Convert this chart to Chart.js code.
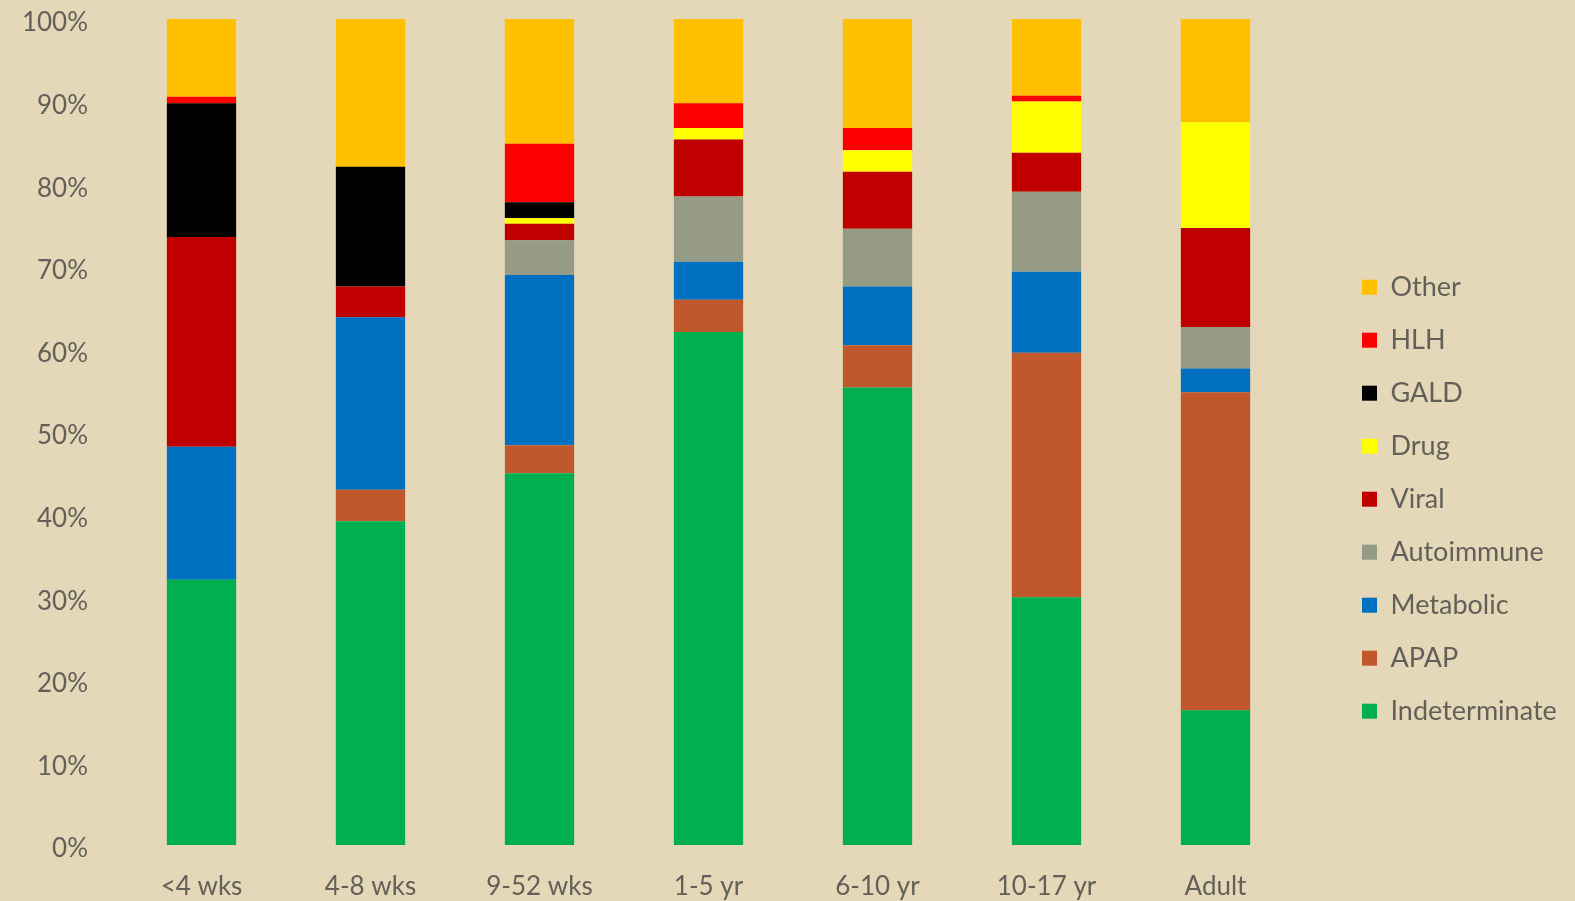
<!DOCTYPE html>
<html>
<head>
<meta charset="utf-8">
<title>Etiology by age group</title>
<script src="https://cdn.jsdelivr.net/npm/chart.js@4"></script>
<style>
  html, body { margin: 0; padding: 0; background: #E4D8B8; }
  #wrap { position: relative; width: 1575px; height: 901px; }
</style>
</head>
<body>
<div id="wrap"><canvas id="etiologyChart"></canvas></div>
<script>
// age groups along the x axis
const ageGroups = ['<4 wks', '4-8 wks', '9-52 wks', '1-5 yr', '6-10 yr', '10-17 yr', 'Adult'];

// share of cases (%) per age group, bottom of the stack first
const indeterminate = [32.1, 39.2, 45.0, 62.1, 55.4, 30.0, 16.3];
const apap          = [0, 3.8, 3.4, 3.9, 5.1, 29.6, 38.5];
const metabolic     = [16.1, 20.9, 20.6, 4.6, 7.1, 9.8, 2.9];
const autoimmune    = [0, 0, 4.2, 7.9, 7.0, 9.7, 5.0];
const viral         = [25.4, 3.7, 2.0, 6.9, 6.9, 4.7, 12.0];
const drug          = [0, 0, 0.7, 1.4, 2.6, 6.2, 12.8];
const gald          = [16.2, 14.5, 1.9, 0, 0, 0, 0];
const hlh           = [0.8, 0, 7.1, 3.0, 2.7, 0.7, 0];
const other         = [9.4, 17.9, 15.1, 10.2, 13.2, 9.3, 12.5];

const yTicks = [0, 10, 20, 30, 40, 50, 60, 70, 80, 90, 100];

const textColor = '#636059';
const fontFamily = "Lato, 'Open Sans', sans-serif";

function series(label, data, color) {
    return { label, data, backgroundColor: color, borderWidth: 0 };
}

// legend sits a bit further right than its natural box
const LEGEND_WIDTH = 275;
const LEGEND_INSET = 36;

const legendPlacement = {
    id: 'legendPlacement',
    beforeLayout(chart) {
        const legend = chart.legend;
        if (!legend || legend._widened) return;
        const fit = legend.fit;
        legend.fit = function () {
            fit.call(this);
            this.width = LEGEND_WIDTH;
        };
        legend._widened = true;
    },
    afterLayout(chart) {
        chart.legend.left += LEGEND_INSET;
        chart.legend.right += LEGEND_INSET;
    }
};

const ctx = document.getElementById('etiologyChart').getContext('2d');
new Chart(ctx, {
    type: 'bar',
    data: {
        labels: ageGroups,
        datasets: [
            series('Indeterminate', indeterminate, '#00B050'),
            series('APAP', apap, '#C0582B'),
            series('Metabolic', metabolic, '#0070C0'),
            series('Autoimmune', autoimmune, '#969B86'),
            series('Viral', viral, '#C00000'),
            series('Drug', drug, '#FFFF00'),
            series('GALD', gald, '#000000'),
            series('HLH', hlh, '#FF0000'),
            series('Other', other, '#FFC000')
        ]
    },
    options: {
        responsive: true,
        maintainAspectRatio: false,
        animation: false,
        devicePixelRatio: 1,
        layout: { padding: { top: 19, left: 0, right: 0, bottom: 0 } },
        datasets: {
            bar: { barPercentage: 0.41, categoryPercentage: 1 }
        },
        scales: {
            x: {
                stacked: true,
                grid: { display: false, drawTicks: false },
                border: { display: false },
                ticks: {
                    color: textColor,
                    padding: 26,
                    maxRotation: 0,
                    font: { family: fontFamily, size: 26 }
                },
                afterFit: (scale) => { scale.height = 56; }
            },
            y: {
                stacked: true,
                min: 0,
                max: 100,
                grid: { display: false, drawTicks: false },
                border: { display: false },
                afterBuildTicks: (scale) => {
                    scale.ticks = yTicks.map(v => ({ value: v }));
                },
                ticks: {
                    color: textColor,
                    padding: 29,
                    labelOffset: 4,
                    font: { family: fontFamily, size: 26 },
                    callback: (v) => v + '%'
                },
                afterFit: (scale) => {
                    scale.width = 117;
                    scale.paddingTop = 0;
                    scale.paddingBottom = 0;
                }
            }
        },
        plugins: {
            tooltip: { enabled: false },
            legend: {
                position: 'right',
                reverse: true,
                title: { display: true, text: '', padding: { top: 64, bottom: 0 } },
                labels: {
                    color: textColor,
                    boxWidth: 15,
                    boxHeight: 15,
                    padding: 26,
                    font: { family: fontFamily, size: 27 }
                }
            }
        }
    },
    plugins: [legendPlacement]
});
</script>
</body>
</html>
